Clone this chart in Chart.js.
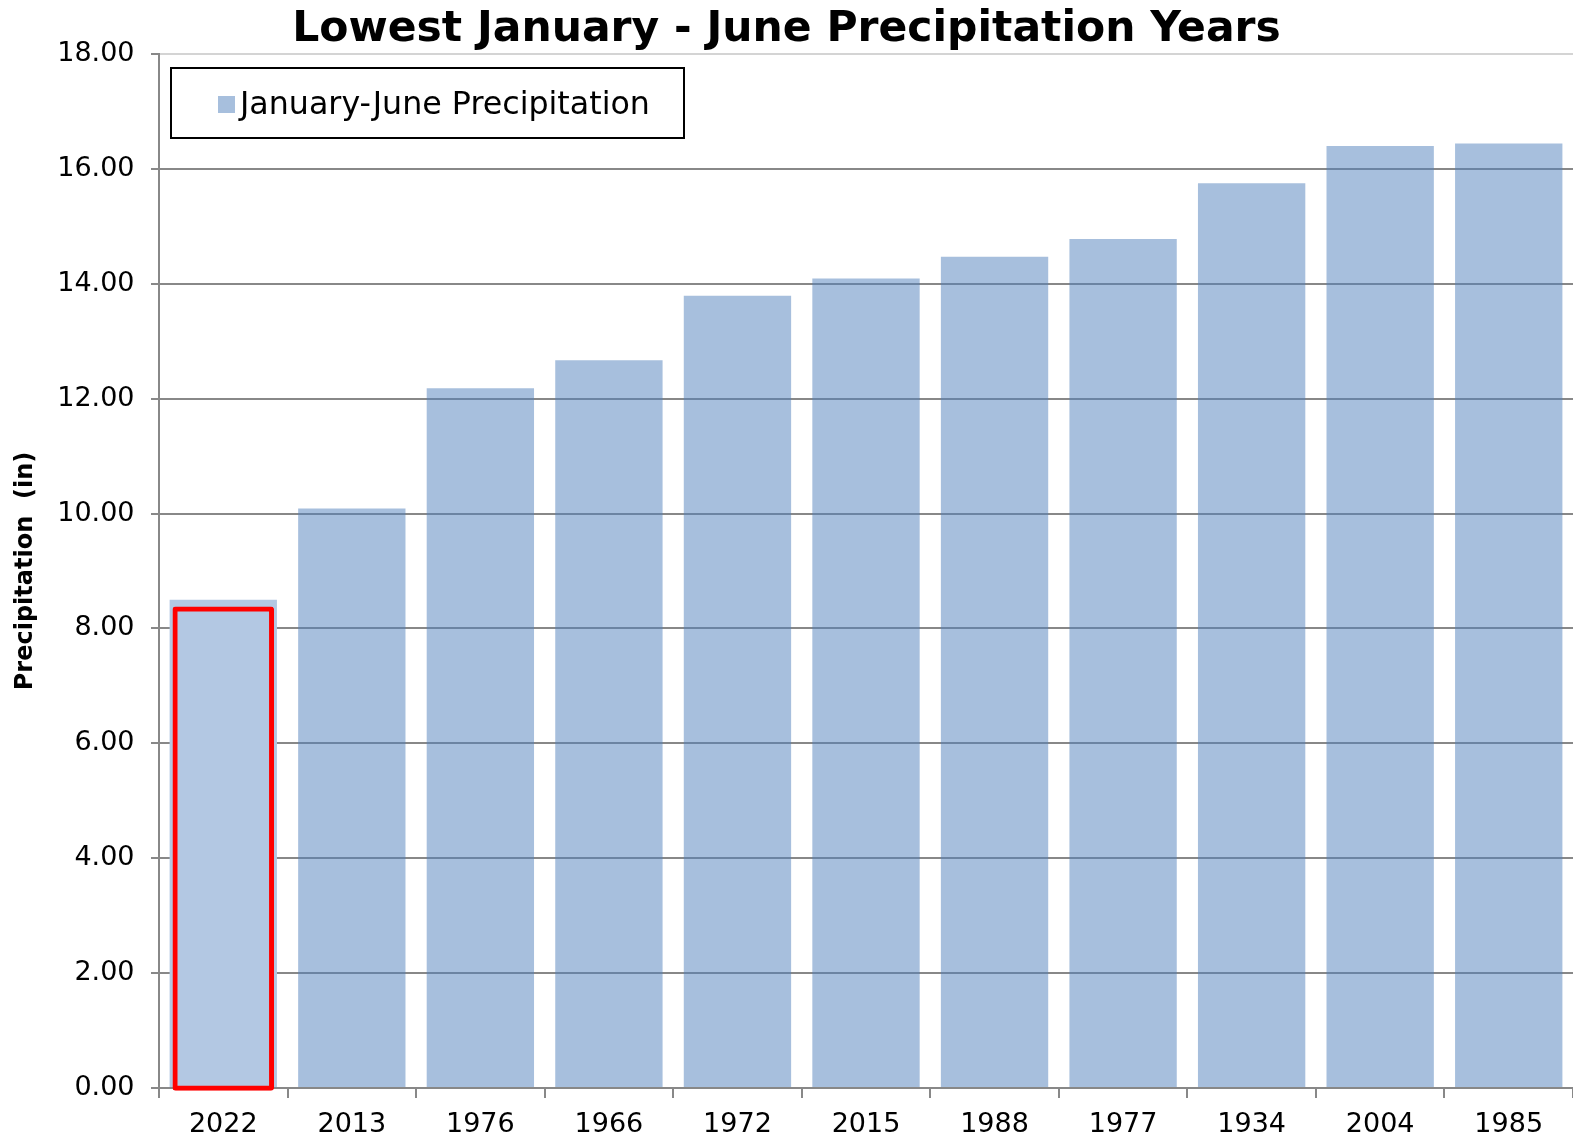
<!DOCTYPE html>
<html>
<head>
<meta charset="utf-8">
<title>Lowest January - June Precipitation Years</title>
<script src="https://cdn.jsdelivr.net/npm/chart.js@4.4.1/dist/chart.umd.min.js"></script>
<style>
    html, body { margin: 0; padding: 0; background: #fff; }
    #chartBox { width: 1573px; height: 1137px; }
</style>
</head>
<body>
<div id="chartBox"><canvas id="myChart" width="1573" height="1137"></canvas></div>
<script>
// data (inches)
const years = ['2022', '2013', '1976', '1966', '1972', '2015', '1988', '1977', '1934', '2004', '1985'];
const precipitation = [8.50, 10.09, 12.18, 12.67, 13.79, 14.09, 14.47, 14.78, 15.75, 16.40, 16.44];
const highlightYear = '2022';
const highlightTop = 8.38; // top of the red outline
const yTicks = [0, 2, 4, 6, 8, 10, 12, 14, 16, 18];

const barColor = 'rgba(79, 127, 187, 0.5)';
const highlightBarColor = '#b3c8e3';
const gridColor = '#888888';
const font = 'DejaVu Sans';

// red outline only on the highlighted year
const highlightData = years.map(y => y === highlightYear ? highlightTop : null);

// legend box drawn inside the plot, top left
const boxedLegend = {
    id: 'boxedLegend',
    afterDraw(chart) {
        const ctx = chart.ctx;
        const area = chart.chartArea;
        const ds = chart.data.datasets[0];
        const x = area.left + 12, y = area.top + 14;
        const w = 513, h = 70;
        ctx.save();
        ctx.fillStyle = '#fff';
        ctx.fillRect(x, y, w, h);
        ctx.strokeStyle = '#000';
        ctx.lineWidth = 2;
        ctx.strokeRect(x, y, w, h);
        ctx.fillStyle = '#a7bfdd';
        ctx.fillRect(x + 47, y + 28, 17, 17);
        ctx.fillStyle = '#000';
        ctx.font = '31.7px "' + font + '"';
        ctx.textBaseline = 'middle';
        ctx.fillText(ds.label, x + 69, y + h / 2 + 3);
        ctx.restore();
    }
};

const ctx = document.getElementById('myChart');
const myChart = new Chart(ctx, {
    type: 'bar',
    data: {
        labels: years,
        datasets: [
            {
                label: 'January-June Precipitation',
                data: precipitation,
                backgroundColor: years.map(y => y === highlightYear ? highlightBarColor : barColor),
                borderWidth: 0,
                barPercentage: 0.835,
                categoryPercentage: 1,
                grouped: false,
                order: 2
            },
            {
                label: 'highlight',
                data: highlightData,
                backgroundColor: 'rgba(0,0,0,0)',
                borderColor: '#ff0000',
                borderWidth: 5,
                borderSkipped: false,
                borderRadius: 3,
                base: -0.05,
                clip: false,
                barPercentage: 0.79,
                categoryPercentage: 1,
                grouped: false,
                order: 1
            }
        ]
    },
    options: {
        responsive: false,
        animation: false,
        devicePixelRatio: 1,
        layout: { padding: { left: 0, right: 0, top: 0, bottom: 0 } },
        plugins: {
            legend: { display: false },
            tooltip: { enabled: false },
            title: {
                display: true,
                text: 'Lowest January - June Precipitation Years',
                color: '#000',
                font: { family: font, size: 42.5, weight: 'bold', lineHeight: 1.1 },
                padding: { top: 7, bottom: 0.25 }
            }
        },
        scales: {
            x: {
                offset: true,
                border: { display: true, color: gridColor, width: 2 },
                grid: {
                    offset: true,
                    drawOnChartArea: false,
                    drawTicks: true,
                    tickLength: 10,
                    color: gridColor,
                    lineWidth: 2
                },
                ticks: {
                    color: '#000',
                    padding: 11,
                    font: { family: font, size: 27 },
                    maxRotation: 0
                },
                afterFit: scale => { scale.height = 49; }
            },
            y: {
                min: 0,
                max: 18,
                afterBuildTicks: scale => { scale.ticks = yTicks.map(v => ({ value: v })); },
                border: { display: true, color: gridColor, width: 2 },
                grid: {
                    color: c => c.tick && c.tick.value === 18 ? '#d4d4d4' : gridColor,
                    lineWidth: 2,
                    tickLength: 8,
                    tickColor: gridColor
                },
                ticks: {
                    color: '#000',
                    padding: 16.5,
                    font: { family: font, size: 27 },
                    callback: v => Number(v).toFixed(2)
                },
                title: {
                    display: true,
                    text: 'Precipitation  (in)',
                    color: '#000',
                    font: { family: font, size: 24, weight: 'bold', lineHeight: 1.2 },
                    padding: { top: 11, bottom: 0 }
                },
                afterFit: scale => { scale.width = 159; }
            }
        }
    },
    plugins: [boxedLegend]
});
</script>
</body>
</html>
